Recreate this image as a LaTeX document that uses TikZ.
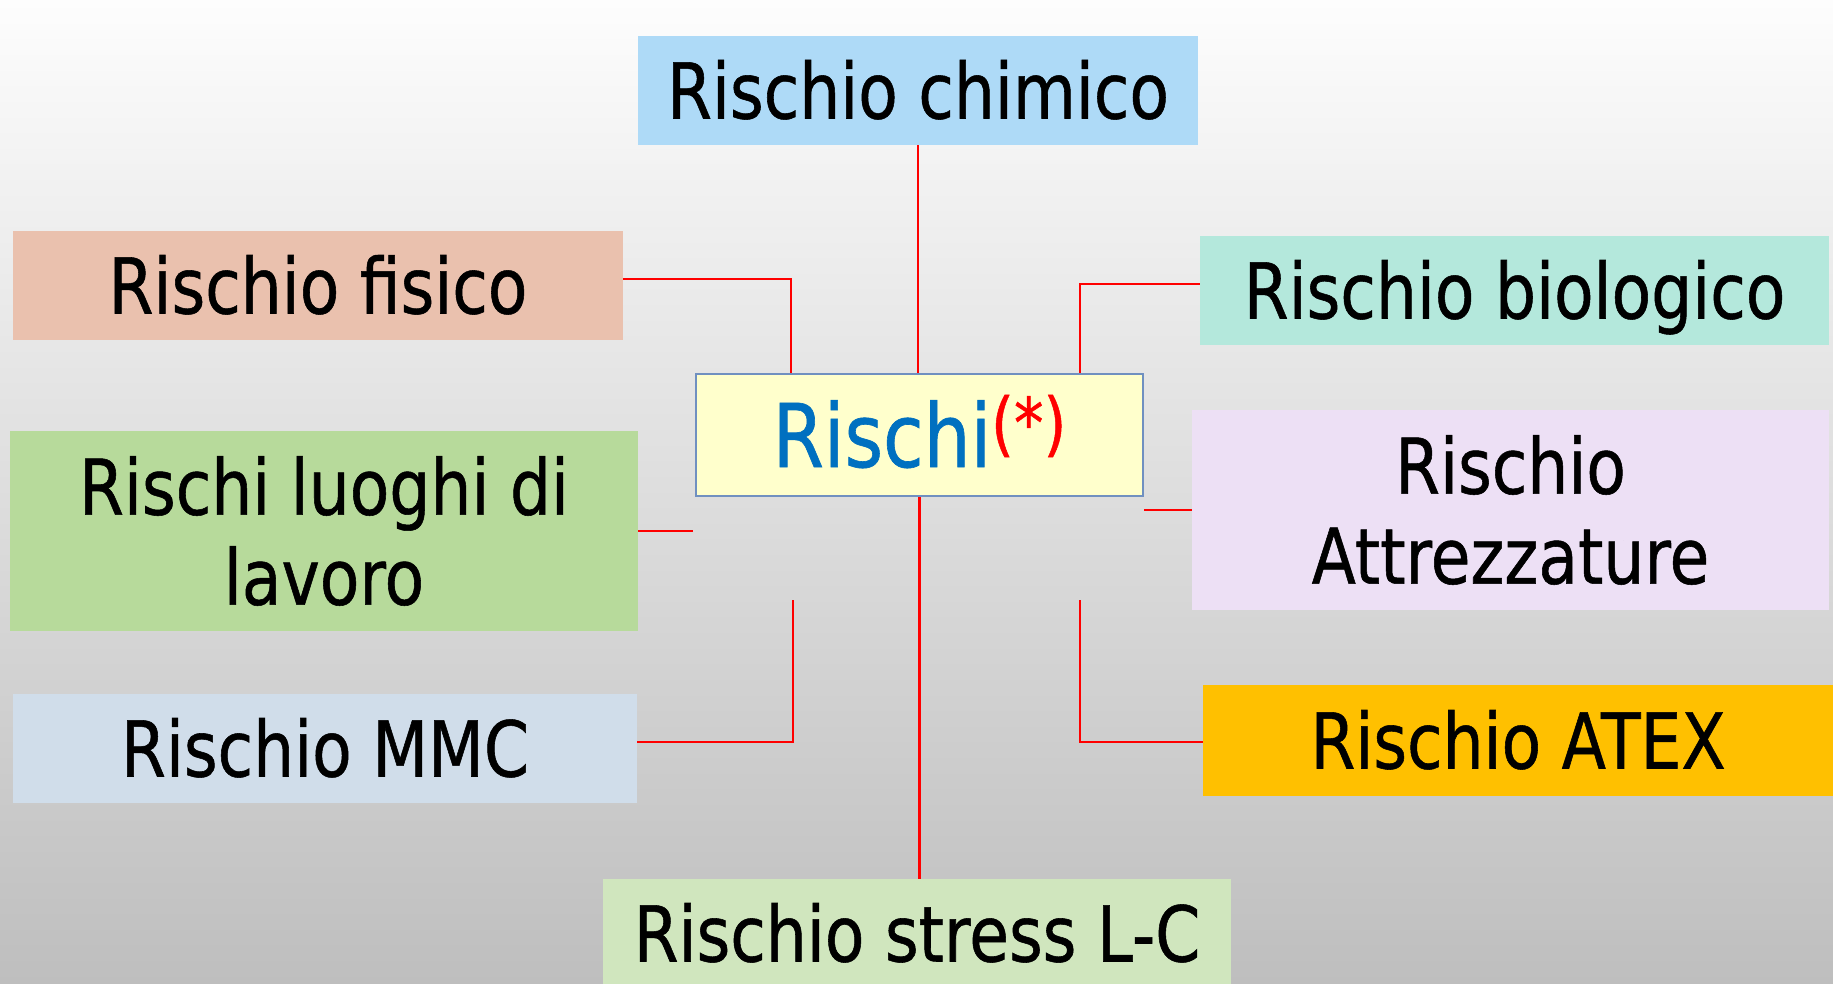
\documentclass[tikz,border=0pt]{standalone}
\usepackage{fontspec}
\setmainfont{DejaVu Sans}[FakeStretch=0.84,FakeBold=0.7]
\definecolor{bgtop}{HTML}{FDFDFD}
\definecolor{bgbottom}{HTML}{BEBEBE}
\definecolor{chimicoblue}{HTML}{AEDAF7}
\definecolor{fisicorose}{HTML}{EAC1AE}
\definecolor{biogreen}{HTML}{B4E8DC}
\definecolor{luoghigreen}{HTML}{B7DA9B}
\definecolor{attrlilac}{HTML}{EDE0F5}
\definecolor{mmcblue}{HTML}{D0DDEA}
\definecolor{atexorange}{HTML}{FFC000}
\definecolor{stressgreen}{HTML}{D0E6BE}
\definecolor{rischiyellow}{HTML}{FFFFCC}
\definecolor{rischiborder}{HTML}{7090C0}
\definecolor{rischiblue}{HTML}{0070C0}
\tikzset{
  riskbox/.style={inner sep=0pt,align=center,text=black,font=\fontsize{77}{90}\selectfont},
  link/.style={draw=red,line width=2.5pt}
}
\begin{document}
\begin{tikzpicture}[x=1pt,y=-1pt]
\useasboundingbox (0,0) rectangle (1833,984);
\clip (0,0) rectangle (1833,984);
\shade[top color=bgtop,bottom color=bgbottom] (0,0) rectangle (1833,984);
\foreach \name/\x/\y/\w/\h/\col/\txt in {chimico/918/90.5/560/109/chimicoblue/Rischio chimico,
    fisico/318/285.5/610/109/fisicorose/Rischio fisico,
    biologico/1514.5/290.5/629/109/biogreen/Rischio biologico,
    mmc/325/748.5/624/109/mmcblue/Rischio MMC,
    atex/1518/740.5/630/111/atexorange/Rischio ATEX,
    stress/917/933.5/628/109/stressgreen/Rischio stress L-C}
{
    \node[riskbox,fill=\col,minimum width=\w pt,minimum height=\h pt,text height=56pt,text depth=0pt] (\name) at (\x,\y) {\txt};
}
\foreach \name/\x/\y/\w/\h/\col/\txt in {luoghi/324/531/628/200/luoghigreen/{Rischi luoghi di\\lavoro},
    attrezzature/1510.5/510/637/200/attrlilac/{Rischio\\Attrezzature}}
{
    \node[riskbox,fill=\col,minimum width=\w pt,minimum height=\h pt] (\name) at (\x,\y) {\txt};
}
\node[draw=rischiborder,fill=rischiyellow,line width=2pt,minimum width=447pt,minimum height=122pt,inner sep=0pt,
  text height=64pt,text depth=0pt,font=\fontsize{88}{100}\selectfont] (rischi) at (919.5,435)
  {\textcolor{rischiblue}{Rischi}\raisebox{19pt}{\fontsize{70}{76}\selectfont\textcolor{red}{(*)}}};
\coordinate (fisicoknee) at (791,279);
\coordinate (bioknee) at (1080,284);
\coordinate (luoghiend) at (693,531);
\coordinate (mmcknee) at (793,742);
\coordinate (mmctop) at (793,600);
\coordinate (atexknee) at (1080,742);
\coordinate (atextop) at (1080,600);
\draw[link] (chimico.south) -- (chimico.south |- rischi.north);
\draw[link] (fisico.east |- fisicoknee) -- (fisicoknee) -- (fisicoknee |- rischi.north);
\draw[link] (biologico.west |- bioknee) -- (bioknee) -- (bioknee |- rischi.north);
\draw[link] (luoghi.east) -- (luoghiend);
\draw[link] (rischi.east |- attrezzature.west) -- (attrezzature.west);
\draw[link] (mmc.east |- mmcknee) -- (mmcknee) -- (mmctop);
\draw[link] (atex.west |- atexknee) -- (atexknee) -- (atextop);
\draw[link] (rischi.south) -- (rischi.south |- stress.north);
\end{tikzpicture}
\end{document}
